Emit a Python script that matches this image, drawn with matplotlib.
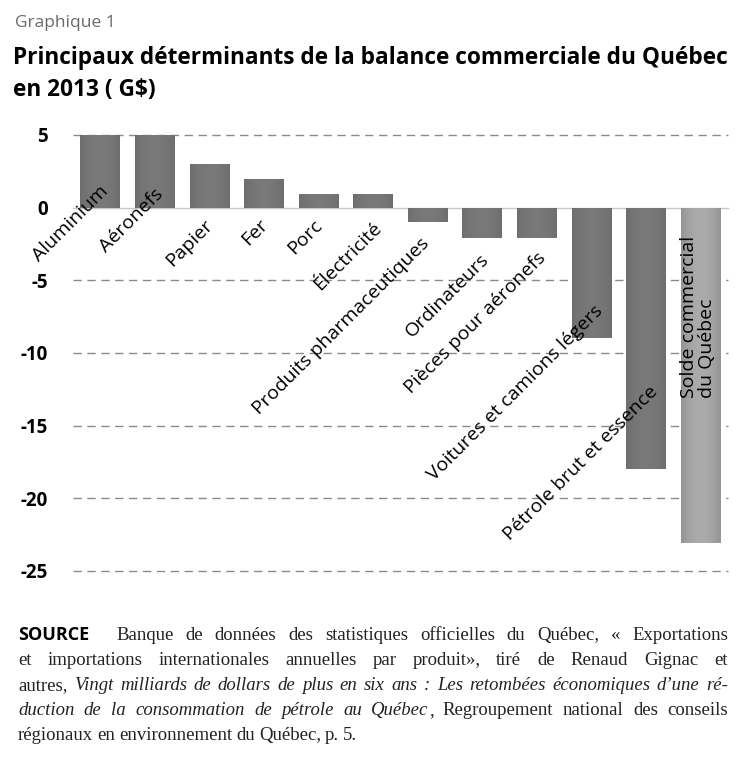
import matplotlib.pyplot as plt
import numpy as np

# donnees (G$)
produits = ["Aluminium", "Aéronefs", "Papier", "Fer", "Porc", "Électricité",
            "Produits pharmaceutiques", "Ordinateurs", "Pièces pour aéronefs",
            "Voitures et camions légers", "Pétrole brut et essence",
            "Solde commercial\ndu Québec"]
valeurs = [5.0, 5.0, 3.0, 2.0, 0.95, 0.95, -1.0, -2.1, -2.1, -9.0, -18.0, -23.1]
yticks = [5, 0, -5, -10, -15, -20, -25]

# position (x, y) de la fin de chaque etiquette, en unites du graphique
etiq_pos = [(0.1, 1.35), (1.1, 1.1), (2.0, -1.0), (3.02, -1.0), (4.02, -1.05),
            (5.1, -1.2), (5.98, -2.25), (7.06, -3.4), (8.11, -3.3),
            (9.15, -6.95), (10.17, -12.45)]

W, H = 739, 783
fig = plt.figure(figsize=(W / 100, H / 100), dpi=100)
sans = "Open Sans"
serif = "Liberation Serif"

def px(x, y):
    return x / W, 1 - y / H

ax = fig.add_axes([73 / W, 1 - 571 / H, (728 - 73) / W, (571 - 135) / H])
x = np.arange(len(valeurs))
barres = ax.bar(x, valeurs, width=0.73, color="none", zorder=3)

# leger degrade horizontal dans les barres
prof = np.abs(np.linspace(-1, 1, 64)) ** 2
for i, b in enumerate(barres):
    if i == len(barres) - 1:
        c0, c1 = 0.67, 0.58
    else:
        c0, c1 = 0.475, 0.43
    g = c0 + (c1 - c0) * prof
    img = np.dstack([g, g, g])
    im = ax.imshow(img, extent=[b.get_x(), b.get_x() + b.get_width(),
                                min(0, b.get_height()), max(0, b.get_height())],
                   aspect="auto", zorder=3, interpolation="bilinear")
    im.set_clip_path(b)

ax.set_xlim(-0.5, len(valeurs) - 0.5)
ax.set_ylim(-25, 5)
for v in yticks:
    if v == 0:
        ax.axhline(v, color="#c8c8c8", lw=1, zorder=2, clip_on=False)
    else:
        ax.axhline(v, color="#8a8a8a", lw=1, ls=(0, (6, 4)), zorder=1, clip_on=False)
ax.set_yticks(yticks)
ax.set_yticklabels([str(v) for v in yticks], fontsize=13.5, fontweight="bold",
                   family=sans)
ax.tick_params(axis="y", length=0, pad=18)
ax.set_xticks([])
for s in ax.spines.values():
    s.set_visible(False)

for i, (ex, ey) in enumerate(etiq_pos):
    ax.text(ex, ey, produits[i], rotation=45, rotation_mode="anchor",
            ha="right", va="center", fontsize=14, family=sans, zorder=4)
ax.text(x[-1] - 0.05, -13.1, produits[-1], rotation=90, ha="center", va="bottom",
        multialignment="left", fontsize=14, family=sans, zorder=4,
        linespacing=1.0)

# titres
fig.text(*px(15, 27), "Graphique 1", fontsize=12.5, color="#6a6a6a", family=sans,
         va="baseline")
fig.text(*px(13, 64), "Principaux déterminants de la balance commerciale du Québec",
         fontsize=16.3, fontweight="bold", family=sans, va="baseline")
fig.text(*px(13, 96), "en 2013 ( G$)", fontsize=16.3, fontweight="bold",
         family=sans, va="baseline")

# source, texte justifie
lignes = [
    [("Banque de données des statistiques officielles du Québec, « Exportations", "normal")],
    [("et importations internationales annuelles par produit», tiré de Renaud Gignac et", "normal")],
    [("autres,", "normal"),
     ("Vingt milliards de dollars de plus en six ans : Les retombées économiques d’une ré-", "italic")],
    [("duction de la consommation de pétrole au Québec", "italic"),
     (", Regroupement national des conseils", "normal")],
    [("régionaux en environnement du Québec, p. 5.", "normal")],
]
fig.text(*px(18, 640), "SOURCE", fontsize=13, fontweight="bold", family=sans,
         va="baseline")
renderer = fig.canvas.get_renderer()
taille = 13.5
for n, segs in enumerate(lignes):
    yb = 640 + n * 25
    x0 = 116 if n == 0 else 18
    x1 = 728
    mots = []
    for texte, style in segs:
        parts = texte.split(" ")
        for k, m in enumerate(parts):
            colle = (k == 0 and texte.startswith(",") and len(mots) > 0)
            mots.append((m, style, colle))
    objs = []
    for m, style, colle in mots:
        t = fig.text(0, 1 - yb / H, m, fontsize=taille, family=serif, style=style,
                     va="baseline", color="#222222")
        objs.append((t, colle))
    largeurs = [t.get_window_extent(renderer).width for t, c in objs]
    nb_esp = sum(1 for t, c in objs[1:] if not c)
    if n == len(lignes) - 1:
        esp = 4.0
    else:
        esp = (x1 - x0 - sum(largeurs)) / max(nb_esp, 1)
    cx = x0
    for j, (t, colle) in enumerate(objs):
        if j > 0 and not colle:
            cx += esp
        t.set_x(cx / W)
        cx += largeurs[j]

fig.savefig("out.png", dpi=100)
